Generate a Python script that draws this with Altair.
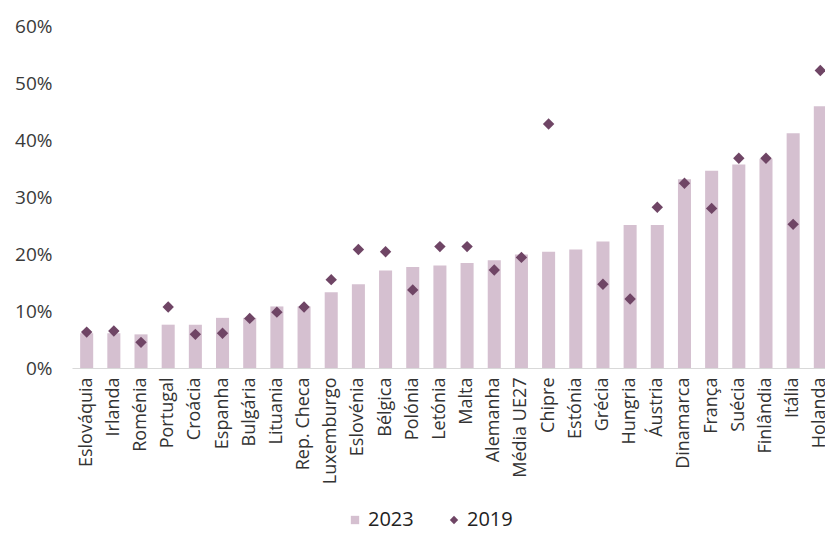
import altair as alt
import pandas as pd

countries = ["Eslováquia", "Irlanda", "Roménia", "Portugal", "Croácia", "Espanha",
             "Bulgária", "Lituania", "Rep. Checa", "Luxemburgo", "Eslovénia", "Bélgica",
             "Polónia", "Letónia", "Malta", "Alemanha", "Média UE27", "Chipre", "Estónia",
             "Grécia", "Hungria", "Áustria", "Dinamarca", "França", "Suécia", "Finlândia",
             "Itália", "Holanda"]
v2023 = [6.1, 6.1, 5.9, 7.6, 7.6, 8.8, 8.8, 10.8, 10.8, 13.3, 14.7, 17.1,
         17.7, 18.0, 18.4, 18.9, 19.9, 20.4, 20.8, 22.2, 25.1, 25.1, 33.1, 34.6,
         35.7, 36.7, 41.2, 45.9]
v2019 = [6.3, 6.5, 4.5, 10.7, 5.9, 6.1, 8.7, 9.8, 10.7, 15.5, 20.8, 20.4,
         13.7, 21.3, 21.3, 17.2, 19.4, 42.8, None, 14.7, 12.1, 28.2, 32.4, 28.0,
         36.8, 36.8, 25.2, 52.2]

bars = pd.DataFrame({"pais": countries, "valor": [v / 100 for v in v2023], "serie": "2023"})
pts = pd.DataFrame({"pais": countries,
                    "valor": [None if v is None else v / 100 for v in v2019],
                    "serie": "2019"}).dropna()

FONT = "Open Sans"
series_domain = ["2023", "2019"]
color_scale = alt.Scale(domain=series_domain, range=["#d5c0d0", "#6f4565"])
shape_scale = alt.Scale(domain=series_domain, range=["square", "diamond"])

x_enc = alt.X("pais:N", sort=countries, title=None,
              scale=alt.Scale(paddingInner=0.52, paddingOuter=0.3, round=False,
                              range=[0, 763]),
              axis=alt.Axis(labelAngle=-90, ticks=False, labelPadding=9,
                            domainColor="#d9d9d9", labelFontSize=18,
                            labelColor="#333333", labelFont=FONT, labelOverlap=False))
y_enc = alt.Y("valor:Q", title=None,
              scale=alt.Scale(domain=[0, 0.6], nice=False),
              axis=alt.Axis(format=".0%", values=[0, 0.1, 0.2, 0.3, 0.4, 0.5, 0.6],
                            grid=False, domain=False, ticks=False, labelPadding=20,
                            labelFontSize=19, labelColor="#3a3a3a", labelFont=FONT))

legend = alt.Legend(title=None, orient="none", legendX=273, legendY=484,
                    direction="horizontal", labelFontSize=20, labelColor="#222222",
                    labelFont=FONT, symbolSize=70, columnPadding=30, labelOffset=3,
                    symbolStrokeWidth=0)

bar_layer = alt.Chart(bars).mark_bar().encode(
    x=x_enc, y=y_enc,
    color=alt.Color("serie:N", scale=color_scale, legend=legend),
    shape=alt.Shape("serie:N", scale=shape_scale, legend=legend),
)
pt_layer = alt.Chart(pts).mark_point(filled=True, size=130, opacity=1).encode(
    x=x_enc, y=y_enc,
    color=alt.Color("serie:N", scale=color_scale, legend=legend),
    shape=alt.Shape("serie:N", scale=shape_scale, legend=legend),
)

chart = alt.layer(bar_layer, pt_layer).properties(
    width=753, height=342,
    autosize=alt.AutoSizeParams(type="none"),
    padding={"left": 72, "top": 26, "right": 0, "bottom": 165},
    background="white",
).configure_view(stroke=None)

chart.save("out.html", embed_options={"renderer": "svg", "actions": False})
